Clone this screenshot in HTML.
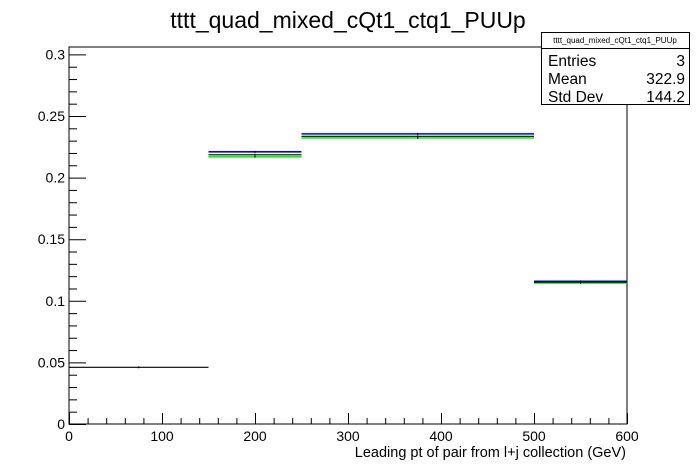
<!DOCTYPE html>
<html><head><meta charset="utf-8"><style>
body{margin:0;background:#fff}
svg{display:block;font-family:"Liberation Sans",Arial,sans-serif}
</style></head><body>
<svg id="c" width="696" height="472">
<text x="348" y="28" font-size="23" text-anchor="middle">tttt_quad_mixed_cQt1_ctq1_PUUp</text>
<rect x="69" y="47" width="558" height="377" fill="none" stroke="#000" stroke-width="1"/>
<g id="axes"></g>
<g id="marks"></g>
<text x="626" y="457" font-size="14.5" text-anchor="end">Leading pt of pair from l+j collection (GeV)</text>
<g>
<rect x="541.5" y="32.5" width="148" height="72" fill="#fff" stroke="#000"/>
<line x1="541.5" y1="48.5" x2="689.5" y2="48.5" stroke="#000"/>
<text x="615" y="43" font-size="8" text-anchor="middle">tttt_quad_mixed_cQt1_ctq1_PUUp</text>
<text x="548" y="66" font-size="15.5">Entries</text>
<text x="685" y="66" font-size="15.5" text-anchor="end">3</text>
<text x="548" y="84" font-size="15.5">Mean</text>
<text x="685" y="84" font-size="15.5" text-anchor="end">322.9</text>
<text x="548" y="102" font-size="15.5">Std Dev</text>
<text x="685" y="102" font-size="15.5" text-anchor="end">144.2</text>
</g>
</svg>
<script>
const binEdges=[0,150,250,500,600];
const blackVals=[0.046,0.2185,0.2335,0.1151];
const blueVals=[0,0.2209,0.2355,0.1158];
const greenVals=[0,0.2169,0.2322,0.1144];
const xTicks=[0,100,200,300,400,500,600];
const yTicks=[0,0.05,0.1,0.15,0.2,0.25,0.3];
const yTickLabels=["0","0.05","0.1","0.15","0.2","0.25","0.3"];
const X0=69,X1=627,Y0=424,YT=47;
const xmax=600,ymax=(424-47)/1232;
const sx=v=>X0+v/xmax*(X1-X0);
const sy=v=>Y0-v/ymax*(Y0-YT);
const NS="http://www.w3.org/2000/svg";
function mk(t,a,p){const e=document.createElementNS(NS,t);for(const k in a)e.setAttribute(k,a[k]);p.appendChild(e);return e;}
const ax=document.getElementById('axes'),mg=document.getElementById('marks');
for(let v=0;v<=600;v+=20){const x=sx(v)+0.5;const major=v%100===0;
 const l=mk('line',{x1:x,x2:x,y1:Y0,y2:Y0-(major?11:6),stroke:'#000'},ax);
 
 }
xTicks.forEach(v=>{const t=mk('text',{x:sx(v),y:Y0+17,'font-size':14,'text-anchor':'middle'},ax);t.textContent=v;
 
 });
for(let i=0;i<=30;i++){const v=i*0.01;const y=sy(v)+0.5;const major=i%5===0;
 const l=mk('line',{x1:X0,x2:X0+(major?17:8),y1:y,y2:y,stroke:'#000'},ax);
 
 }
yTicks.forEach((v,i)=>{const t=mk('text',{x:X0-4,y:sy(v)+5,'font-size':14,'text-anchor':'end'},ax);t.textContent=yTickLabels[i];
 
 });
function series(vals,col,name,w){vals.forEach((v,i)=>{if(v<=0)return;const y=sy(v);
 const l=mk('line',{x1:sx(binEdges[i]),x2:sx(binEdges[i+1]),y1:y,y2:y,stroke:col,'stroke-width':w},mg);
 
 
 const c=sx((binEdges[i]+binEdges[i+1])/2);
 mk('line',{x1:c,x2:c,y1:y-1,y2:y+1,stroke:'#000'},mg);});}
series(greenVals,'#00ff00','green',1.6);
series(blueVals,'#0000ff','blue',1.6);
series(blackVals,'#000000','black',1.1);
</script>
</body></html>
